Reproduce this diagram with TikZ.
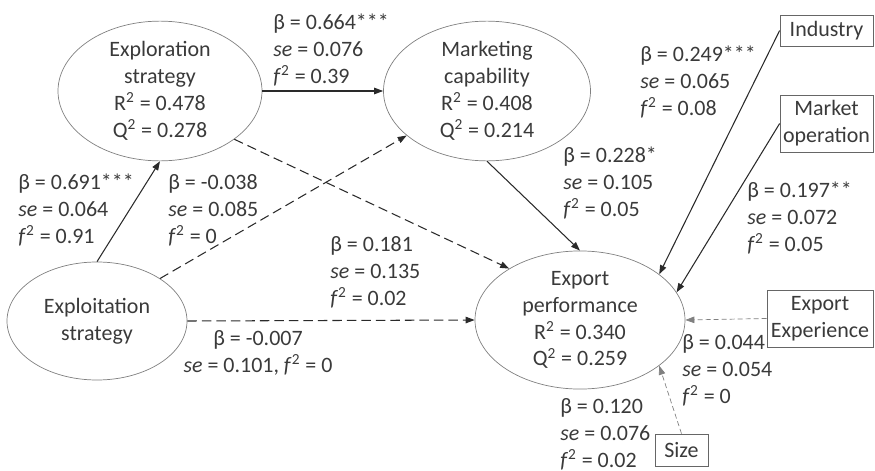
\documentclass[tikz,border=0pt]{standalone}
\usepackage{fontspec}
\setmainfont{Carlito}
\usetikzlibrary{shapes.geometric}
\usetikzlibrary{arrows.meta}
\definecolor{txtgray}{HTML}{3A3A3A}
\definecolor{linegray}{HTML}{2A2A2A}
\newcommand{\estblock}[3]{β = #1\\\textit{se} = #2\\\textit{f}\textsuperscript{2} = #3}

\begin{document}
\begin{tikzpicture}[x=0.2mm,y=-0.2mm,
  font=\fontsize{12.5}{15.3}\selectfont, text=txtgray,
  construct/.style={ellipse,draw=gray,thin,inner sep=0pt,align=center},
  ctrlbox/.style={draw=gray!80!black,thin,inner sep=0pt,align=center},
  est/.style={inner sep=0pt,anchor=west,align=left},
  sig/.style={draw=linegray,semithick,-{Triangle[length=1.8mm,width=1.3mm]}},
  nonsig/.style={sig,dash pattern=on 1.9mm off 1mm},
  ctrl/.style={draw=gray,thin,dash pattern=on 1mm off 0.6mm,-{Triangle[length=1.8mm,width=1.3mm]}}]
\useasboundingbox (0,0) rectangle (875,471);

\node[construct,minimum width=40.8mm,minimum height=24.4mm] (explor) at (160,91) {Exploration\\strategy\\R\textsuperscript{2} = 0.478\\Q\textsuperscript{2} = 0.278};
\node[construct,minimum width=41.4mm,minimum height=24.4mm] (market) at (487,91) {Marketing\\capability\\R\textsuperscript{2} = 0.408\\Q\textsuperscript{2} = 0.214};
\node[construct,minimum width=36mm,minimum height=23.6mm] (exploit) at (97,321) {Exploitation\\strategy};
\node[construct,minimum width=42mm,minimum height=24.8mm] (export) at (580,320) {Export\\performance\\R\textsuperscript{2} = 0.340\\Q\textsuperscript{2} = 0.259};

\node[ctrlbox,minimum width=18.6mm,minimum height=6.2mm] (industry) at (826.5,30.5) {Industry};
\node[ctrlbox,minimum width=18.6mm,minimum height=11.4mm] (marketop) at (826.5,123.5) {Market\\operation};
\node[ctrlbox,minimum width=21.2mm,minimum height=11.4mm] (expexp) at (820,318.5) {Export\\Experience};
\node[ctrlbox,minimum width=10.6mm,minimum height=6.4mm] (size) at (681.5,450) {Size};

\draw[sig] (exploit.north) -- (explor.south);
\draw[sig] (explor.east) -- (market.west);
\draw[sig] (market.south) -- (export.north);
\draw[nonsig] (explor.-33) -- (export.144);
\draw[nonsig] (exploit.34) -- (market.209);
\draw[nonsig] (exploit.east) -- (export.west);
\draw[sig] (industry.west) -- (export.30);
\draw[sig] (marketop.west) -- (export.16);
\draw[ctrl] (expexp.west) -- (export.east);
\draw[ctrl] (size.north) -- (export.-30);

\node[est] (l664) at (273,50) {\estblock{0.664***}{0.076}{0.39}};
\node[est] (l691) at (18,210) {\estblock{0.691***}{0.064}{0.91}};
\node[est] (l038) at (168,210) {\estblock{-0.038}{0.085}{0}};
\node[est] (l181) at (330,272) {\estblock{0.181}{0.135}{0.02}};
\node[inner sep=0pt,align=center] (l007) at (258,353) {β = -0.007\\\textit{se} = 0.101, \textit{f}\textsuperscript{2} = 0};
\node[est] (l228) at (563,183) {\estblock{0.228*}{0.105}{0.05}};
\node[est] (l249) at (640,82) {\estblock{0.249***}{0.065}{0.08}};
\node[est] (l197) at (747,218) {\estblock{0.197**}{0.072}{0.05}};
\node[est] (l044) at (682,370) {\estblock{0.044}{0.054}{0}};
\node[est] (l120) at (560,434) {\estblock{0.120}{0.076}{0.02}};
\end{tikzpicture}
\end{document}
